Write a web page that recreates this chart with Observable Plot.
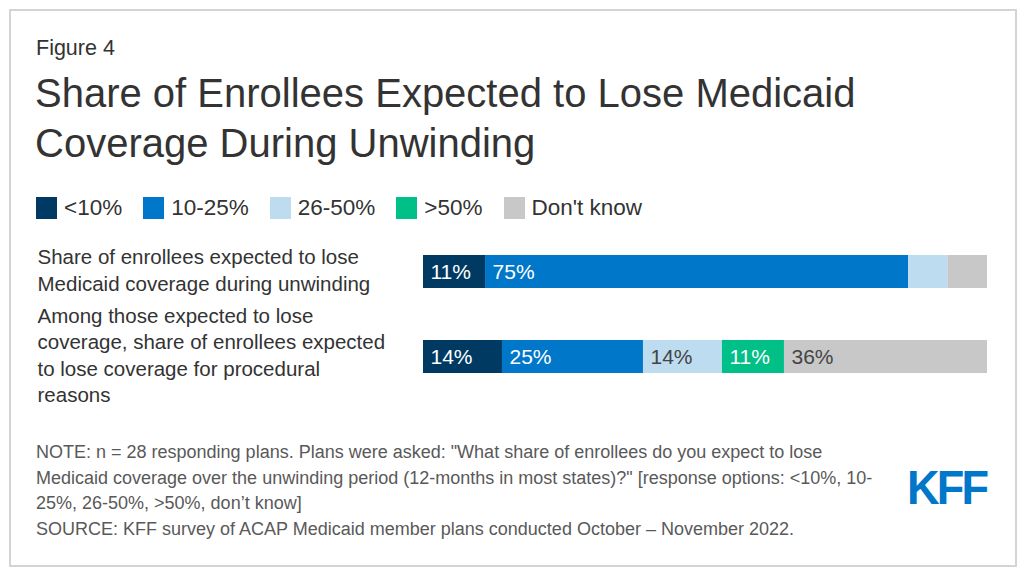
<!DOCTYPE html>
<html>
<head>
<meta charset="utf-8">
<script src="https://cdn.jsdelivr.net/npm/d3@7"></script>
<script src="https://cdn.jsdelivr.net/npm/@observablehq/plot@0.6"></script>
<style>
  html, body { margin: 0; padding: 0; background: #fff; }
  body { width: 1024px; height: 574px; position: relative; overflow: hidden;
         font-family: "Liberation Sans", Arial, Helvetica, sans-serif; color: #333; }
  #frame { position: absolute; left: 9px; top: 9px; width: 1004px; height: 554px;
           border: 2px solid #d4d4d4; box-sizing: content-box; }
  #fig { position: absolute; left: 36px; top: 36px; font-size: 21.5px; line-height: 24px; color: #333; }
  #title { position: absolute; left: 35px; top: 68px; font-size: 40px; line-height: 50px; color: #333; }
  #legend { position: absolute; left: 36px; top: 197px; display: flex; align-items: center; font-size: 22.5px; line-height: 22px; color: #333; }
  #legend .item { display: flex; align-items: center; margin-right: 21px; }
  #legend .sw { width: 21px; height: 22px; margin-right: 7px; }
  #chart { position: absolute; left: 0; top: 232px; }
  #note { position: absolute; left: 36px; top: 440px; font-size: 18px; line-height: 25.5px; color: #595959; }
  #logo { position: absolute; left: 907px; top: 463px; font-size: 49px; line-height: 1; font-weight: bold; color: #0077c8;
          letter-spacing: -3px; transform: scaleX(0.92); transform-origin: left top; }
</style>
</head>
<body>
<div id="frame"></div>
<div id="fig">Figure 4</div>
<div id="title">Share of Enrollees Expected to Lose Medicaid<br>Coverage During Unwinding</div>
<div id="legend"></div>
<div id="chart"></div>
<div id="note">NOTE: n = 28 responding plans. Plans were asked: "What share of enrollees do you expect to lose<br>Medicaid coverage over the unwinding period (12-months in most states)?" [response options: &lt;10%, 10-<br>25%, 26-50%, &gt;50%, don’t know]<br>SOURCE: KFF survey of ACAP Medicaid member plans conducted October – November 2022.</div>
<div id="logo">KFF</div>
<script>
const categories = ["<10%", "10-25%", "26-50%", ">50%", "Don't know"];
const colors = ["#003a63", "#0077c8", "#bddcf0", "#00bf87", "#c8c8c8"];
const labelColors = ["#ffffff", "#ffffff", "#444444", "#ffffff", "#444444"];
const questions = [
  "Share of enrollees expected to lose\nMedicaid coverage during unwinding",
  "Among those expected to lose\ncoverage, share of enrollees expected\nto lose coverage for procedural\nreasons"
];
const q1Values = [11, 75, 7, 0, 7];
const q2Values = [14, 25, 14, 11, 36];

const data = [];
[q1Values, q2Values].forEach((vals, qi) => {
  vals.forEach((v, ci) => {
    data.push({question: questions[qi], category: categories[ci], value: v,
               label: v > 8 ? v + "%" : "", labelColor: labelColors[ci]});
  });
});

// legend
const leg = document.getElementById("legend");
categories.forEach((c, i) => {
  const it = document.createElement("div");
  it.className = "item";
  const sw = document.createElement("div");
  sw.className = "sw";
  sw.style.background = colors[i];
  const tx = document.createElement("span");
  tx.textContent = c;
  it.appendChild(sw); it.appendChild(tx);
  leg.appendChild(it);
});

const chart = Plot.plot({
  width: 1024,
  height: 180,
  marginLeft: 423,
  marginRight: 37,
  marginTop: 5,
  marginBottom: 21.6,
  style: {fontFamily: "'Liberation Sans', Arial, sans-serif", background: "transparent"},
  x: {domain: [0, 100], axis: null},
  y: {domain: questions, paddingInner: 0.616, paddingOuter: 0.2, axis: null},
  color: {domain: categories, range: colors},
  marks: [
    Plot.barX(data, Plot.stackX({x: "value", y: "question", fill: "category", order: categories})),
    Plot.text(data, Plot.stackX1({x: "value", y: "question", z: "category", order: categories,
      text: "label", fill: "labelColor", textAnchor: "start", dx: 7, fontSize: 21})),
    Plot.text(questions, {y: d => d, text: d => d, frameAnchor: "left", dx: -386, dy: -3,
      textAnchor: "start", fontSize: 20.5, lineHeight: 1.29, fill: "#333"})
  ]
});
document.getElementById("chart").appendChild(chart);
</script>
</body>
</html>
